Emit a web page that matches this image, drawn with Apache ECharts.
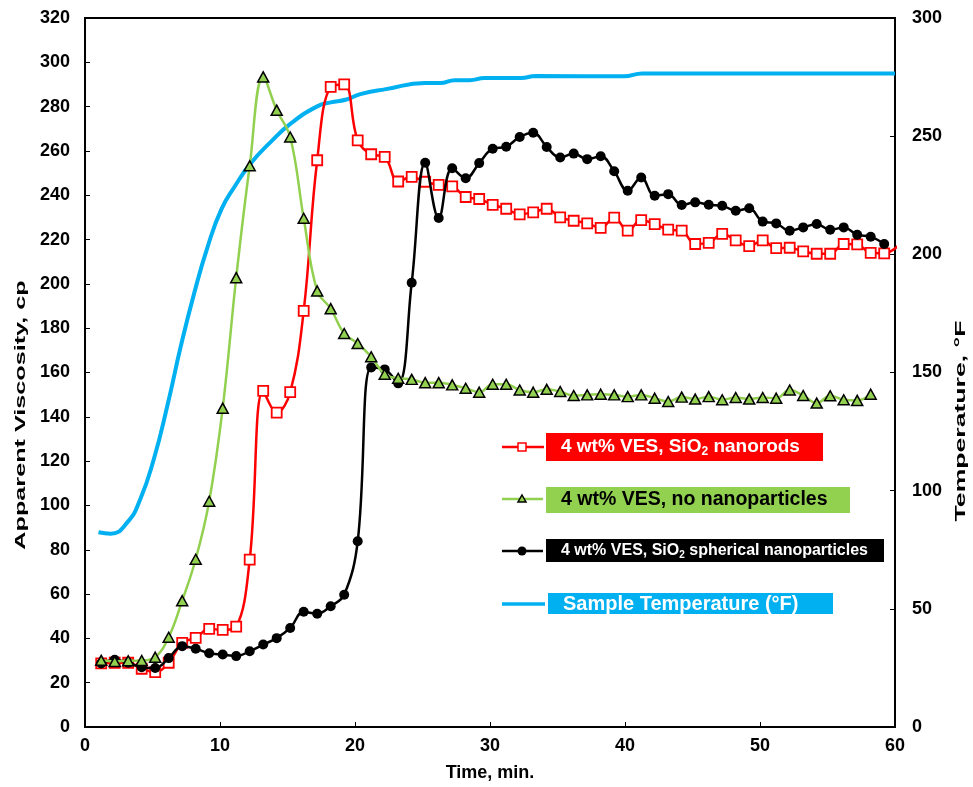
<!DOCTYPE html>
<html><head><meta charset="utf-8">
<script src="https://cdn.jsdelivr.net/npm/echarts@6/dist/echarts.min.js"></script>
<style>html,body{margin:0;padding:0;background:#fff}#c{width:973px;height:787px}</style>
</head><body><div id="c"></div>
<script>
// Time of each viscosity reading (min)
const minutes = [1.2,2.2,3.2,4.2,5.2,6.2,7.2,8.2,9.2,10.2,11.2,12.2,13.2,14.2,15.2,16.2,17.2,18.2,19.2,20.2,
  21.2,22.2,23.2,24.2,25.2,26.2,27.2,28.2,29.2,30.2,31.2,32.2,33.2,34.2,35.2,36.2,37.2,38.2,39.2,40.2,
  41.2,42.2,43.2,44.2,45.2,46.2,47.2,48.2,49.2,50.2,51.2,52.2,53.2,54.2,55.2,56.2,57.2,58.2,59.2,60.2];
// 4 wt% VES, SiO2 nanorods (cp)
const viscNanorods = [28.7,29.0,29.0,26.3,24.8,29.0,38.0,40.2,44.3,43.8,45.3,75.5,151.7,141.9,151.1,187.8,255.8,288.9,290.0,264.8,
  258.5,257.3,246.2,248.3,246.1,244.7,244.0,239.2,238.3,235.7,233.9,231.4,232.3,233.9,230.0,228.5,227.3,225.3,229.9,224.0,
  228.8,227.0,224.5,224.0,218.0,218.5,222.6,219.6,217.0,219.6,216.1,216.3,214.7,213.6,213.6,218.0,217.8,214.0,213.8,217.0];
// 4 wt% VES, no nanoparticles (cp)
const viscNoNano = [30.1,29.6,29.9,30.0,31.5,40.5,57.0,75.7,101.9,143.9,202.8,253.3,293.4,278.4,266.3,229.6,196.8,188.8,177.6,173.1,
  167.1,159.2,157.4,156.9,155.4,155.4,154.4,152.9,151.1,154.7,154.7,152.1,151.1,152.4,151.4,149.6,149.9,150.2,149.9,149.1,
  149.9,148.4,146.9,148.9,148.0,149.1,147.7,148.7,148.0,148.7,148.4,152.1,149.6,146.2,149.5,147.7,147.4,150.2];
// 4 wt% VES, SiO2 spherical nanoparticles (cp)
const viscSpherical = [28.7,30.3,29.0,27.0,26.6,31.1,36.5,35.3,33.3,32.7,32.0,34.2,37.2,40.1,44.7,52.0,51.1,54.5,59.7,83.8,
  162.3,161.4,155.1,200.5,254.7,229.7,252.2,247.7,254.5,261.0,261.9,266.3,268.2,261.8,257.0,258.8,256.3,257.6,250.8,242.0,
  248.0,239.8,240.5,235.6,236.8,235.7,235.3,233.0,234.1,228.1,227.3,224.0,225.5,227.0,224.4,225.5,222.2,221.3,218.0];
// Sample temperature (°F)
const tempTime = [1.0,1.9,3.15,4.1,5.1,6.1,7.1,8.1,9.1,10.1,11.1,12.3,13.8,15.3,17.2,18.2,19.3,20.4,22.3,25.2,26.3,27.4,28.5,29.6,32.3,33.4,39.9,41.3,60.0];
const tempF = [82.4,81.8,86.7,96.5,113.4,135.9,161.2,183.8,203.5,219.0,228.8,238.7,247.8,255.6,262.6,264.3,265.4,267.8,269.9,272.5,272.5,273.7,273.7,274.6,274.6,275.5,275.3,276.5,276.5];

const seriesNames = ['4 wt% VES, SiO2 nanorods','4 wt% VES, no nanoparticles','4 wt% VES, SiO2 spherical nanoparticles','Sample Temperature (°F)'];
const xTitle = 'Time, min.';
const yLeftTitle = 'Apparent Viscosity, cp';
const yRightTitle = 'Temperature, °F';

function pairs(xs, ys) { return ys.map((v, i) => [xs[i], v]); }

const FONT = '"Liberation Sans", Arial, sans-serif';
const chart = echarts.init(document.getElementById('c'), null, {renderer: 'canvas'});

const axisCommon = {
  splitLine: {show: false},
  axisLine: {show: true, onZero: false, lineStyle: {color: '#000', width: 2}},
  axisTick: {show: true, inside: true, length: 5, lineStyle: {color: '#000', width: 1}},
  axisLabel: {color: '#000', fontSize: 18, fontWeight: 'bold', fontFamily: FONT}
};

function legendText(x, y, parts, size, color) {
  const rich = {
    m: {fontSize: size, fontWeight: 'bold', fontFamily: FONT, fill: color},
    s: {fontSize: Math.round(size * 0.65), fontWeight: 'bold', fontFamily: FONT, fill: color, padding: [Math.round(size * 0.55), 0, 0, 0]}
  };
  return {type: 'text', x: x, y: y, z: 100, style: {text: parts, rich: rich, verticalAlign: 'middle', align: 'left'}};
}

const option = {
  animation: false,
  backgroundColor: '#fff',
  grid: {left: 85, right: 78, top: 18, bottom: 59, show: true, borderColor: '#000', borderWidth: 2, containLabel: false},
  xAxis: Object.assign({}, axisCommon, {
    type: 'value', min: 0, max: 60, interval: 10,
    axisLabel: Object.assign({}, axisCommon.axisLabel, {margin: 10}),
    name: xTitle, nameLocation: 'middle', nameGap: 37,
    nameTextStyle: {color: '#000', fontSize: 18, fontWeight: 'bold', fontFamily: FONT}
  }),
  yAxis: [
    Object.assign({}, axisCommon, {type: 'value', position: 'left', min: 0, max: 320, interval: 20,
      axisLabel: Object.assign({}, axisCommon.axisLabel, {margin: 15})}),
    Object.assign({}, axisCommon, {type: 'value', position: 'right', min: 0, max: 300, interval: 50,
      axisLabel: Object.assign({}, axisCommon.axisLabel, {margin: 17})})
  ],
  series: [
    {name: seriesNames[3], type: 'line', yAxisIndex: 1, data: pairs(tempTime, tempF), smooth: 0.5,
      symbol: 'none', lineStyle: {color: '#00B0F0', width: 4}, z: 1},
    {name: seriesNames[0], type: 'line', data: pairs(minutes, viscNanorods), smooth: 0.4,
      symbol: 'rect', symbolSize: 10, showAllSymbol: true,
      lineStyle: {color: '#FF0000', width: 2.5}, itemStyle: {color: '#fff', borderColor: '#FF0000', borderWidth: 1.8}, z: 2},
    {name: seriesNames[2], type: 'line', data: pairs(minutes, viscSpherical), smooth: 0.4,
      symbol: 'circle', symbolSize: 10, showAllSymbol: true,
      lineStyle: {color: '#000', width: 2.5}, itemStyle: {color: '#000', borderColor: '#000', borderWidth: 0}, z: 3},
    {name: seriesNames[1], type: 'line', data: pairs(minutes, viscNoNano), smooth: 0.4,
      symbol: 'triangle', symbolSize: [11, 10], showAllSymbol: true,
      lineStyle: {color: '#92D050', width: 2.5}, itemStyle: {color: '#92D050', borderColor: '#000', borderWidth: 1.5}, z: 4}
  ],
  graphic: [
    {type: 'text', x: 21, y: 415, rotation: Math.PI / 2, scaleX: 1.8, z: 100,
      style: {text: yLeftTitle, font: 'bold 14px ' + FONT, fill: '#000', align: 'center', verticalAlign: 'middle'}},
    {type: 'text', x: 961, y: 421, rotation: Math.PI / 2, scaleX: 1.9, z: 100,
      style: {text: yRightTitle, font: 'bold 14px ' + FONT, fill: '#000', align: 'center', verticalAlign: 'middle'}},
    // legend: nanorods
    {type: 'rect', shape: {x: 546, y: 433, width: 277, height: 28}, style: {fill: '#FF0000'}, z: 90},
    {type: 'line', shape: {x1: 502, y1: 447, x2: 544, y2: 447}, style: {stroke: '#FF0000', lineWidth: 2.5}, z: 90},
    {type: 'rect', shape: {x: 518, y: 443, width: 8, height: 8}, style: {fill: '#fff', stroke: '#FF0000', lineWidth: 1.5}, z: 91},
    legendText(561, 447, '{m|4 wt% VES, SiO}{s|2}{m| nanorods}', 19, '#fff'),
    // legend: no nanoparticles
    {type: 'rect', shape: {x: 546, y: 487, width: 304, height: 26}, style: {fill: '#92D050'}, z: 90},
    {type: 'line', shape: {x1: 502, y1: 499, x2: 543, y2: 499}, style: {stroke: '#92D050', lineWidth: 2.5}, z: 90},
    {type: 'polygon', shape: {points: [[522, 495], [526, 502], [518, 502]]}, style: {fill: '#92D050', stroke: '#000', lineWidth: 1.5}, z: 91},
    legendText(561, 500, '{m|4 wt% VES, no nanoparticles}', 19.5, '#000'),
    // legend: spherical
    {type: 'rect', shape: {x: 546, y: 539, width: 338, height: 23}, style: {fill: '#000'}, z: 90},
    {type: 'line', shape: {x1: 502, y1: 551, x2: 543, y2: 551}, style: {stroke: '#000', lineWidth: 2.5}, z: 90},
    {type: 'circle', shape: {cx: 522, cy: 551, r: 4.5}, style: {fill: '#000'}, z: 91},
    legendText(561, 551, '{m|4 wt% VES, SiO}{s|2}{m| spherical nanoparticles}', 16, '#fff'),
    // legend: temperature
    {type: 'rect', shape: {x: 548, y: 593, width: 285, height: 21}, style: {fill: '#00B0F0'}, z: 90},
    {type: 'line', shape: {x1: 502, y1: 604, x2: 545, y2: 604}, style: {stroke: '#00B0F0', lineWidth: 3.5}, z: 90},
    legendText(563, 604, '{m|Sample Temperature (°F)}', 20, '#fff')
  ]
};
chart.setOption(option);
</script></body></html>
